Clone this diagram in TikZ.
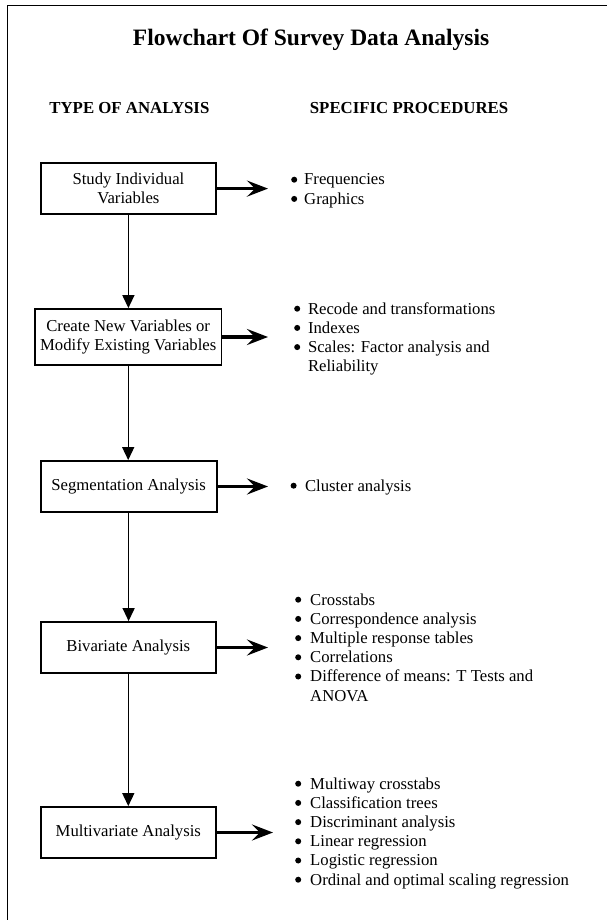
\documentclass[tikz,border=0pt]{standalone}
\usepackage{fontspec}
\setmainfont{Liberation Serif}
\usetikzlibrary{arrows.meta}
\newcommand\mybody{\fontsize{16.7}{19.2}\selectfont}
\newcommand\mytitle{\fontsize{23.5}{28}\selectfont\bfseries}
\newcommand\myhead{\fontsize{16.8}{20}\selectfont\bfseries}
\newcommand\blist[2]{\begin{tabular}[t]{@{}l@{\hspace{#1}}l@{}}#2\end{tabular}}
\newcommand\bul{\tikz[baseline=0pt,x=1cm,y=1cm]{\useasboundingbox (0pt,0pt) rectangle (6pt,6pt);\fill (3pt,5.3pt) circle (3pt);}}
\begin{document}
\begin{tikzpicture}[x=1pt,y=-1pt,
  box/.style={draw,line width=1.8pt,inner sep=0pt,align=center,font=\mybody},
  lst/.style={inner sep=0pt,anchor=base west,font=\mybody},
  hdr/.style={inner sep=0pt,anchor=base west,font=\myhead},
  harrow/.style={line width=3.2pt,-{Stealth[length=21pt,width=16pt,inset=8pt]}},
  varrow/.style={line width=1.4pt,-{Triangle[length=13pt,width=12pt]}},
  frame/.style={line width=1.4pt}]
\useasboundingbox (0,0) rectangle (607,920);
\fill[white] (0,0) rectangle (607,920);
\clip (0,0) rectangle (607,920);
% outer frame
\draw[frame] (615,5.5) -- (7.7,5.5) -- (7.7,930);
% title and headings
\node[inner sep=0pt,anchor=base west,font=\mytitle] (title) at (132.7,46) {Flowchart Of Survey Data Analysis};
\node[hdr] (h1) at (49.2,114) {TYPE OF ANALYSIS};
\node[hdr] (h2) at (309.7,114) {SPECIFIC PROCEDURES};
% boxes
\node[box,minimum width=175.3,minimum height=50.7] (b1) at (128.4,188.6) {Study Individual\\Variables};
\node[box,minimum width=186.5,minimum height=56] (b2) at (128.2,337) {Create New Variables or\\Modify Existing Variables};
\node[box,minimum width=176,minimum height=51] (b3) at (128.6,486.5) {Segmentation Analysis};
\node[box,minimum width=175.4,minimum height=51] (b4) at (128.3,647.5) {Bivariate Analysis};
\node[box,minimum width=175.4,minimum height=51] (b5) at (128.3,832.5) {Multivariate Analysis};
% lists
\node[lst] (p1) at (291,185) {\blist{7pt}{\bul&Frequencies\\\bul&Graphics}};
\node[lst] (p2) at (294,314) {\blist{7.8pt}{\bul&Recode and transformations\\\bul&Indexes\\\bul&Scales: Factor analysis and\\&Reliability}};
\node[lst] (p3) at (290.4,491) {\blist{8.5pt}{\bul&Cluster analysis}};
\node[lst] (p4) at (295,605) {\blist{9pt}{\bul&Crosstabs\\\bul&Correspondence analysis\\\bul&Multiple response tables\\\bul&Correlations\\\bul&Difference of means: T Tests and\\&ANOVA}};
\node[lst] (p5) at (295,789) {\blist{9pt}{\bul&Multiway crosstabs\\\bul&Classification trees\\\bul&Discriminant analysis\\\bul&Linear regression\\\bul&Logistic regression\\\bul&Ordinal and optimal scaling regression}};
% arrow tip positions
\coordinate (tA) at (268,0);
\coordinate (tB) at (273,0);
% horizontal arrows
\draw[harrow] (b1.east) -- (b1.east -| tA);
\draw[harrow] (b2.east) -- (b2.east -| tA);
\draw[harrow] (b3.east) -- (b3.east -| tA);
\draw[harrow] (b4.east) -- (b4.east -| tA);
\draw[harrow] (b5.east) -- (b5.east -| tB);
% vertical arrows
\draw[varrow] (b1.south) -- (b1.south |- b2.north);
\draw[varrow] (b2.south) -- (b2.south |- b3.north);
\draw[varrow] (b3.south) -- (b3.south |- b4.north);
\draw[varrow] (b4.south) -- (b4.south |- b5.north);
\end{tikzpicture}
\end{document}
